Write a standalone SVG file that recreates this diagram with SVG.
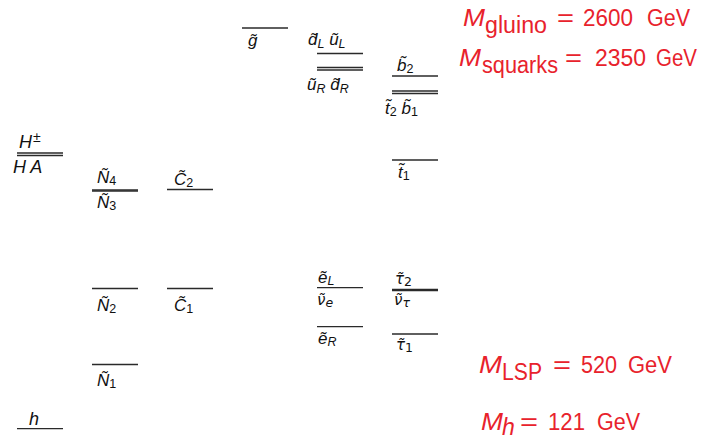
<svg xmlns="http://www.w3.org/2000/svg" width="702" height="448" viewBox="0 0 702 448">
<style>
.lv{stroke:#2a2a2a;stroke-width:1.3;fill:none}
.lb{font-family:"Liberation Sans","DejaVu Sans",sans-serif;font-style:italic;font-size:17px;fill:#111}
.gk{font-family:"DejaVu Sans","Liberation Sans",sans-serif;font-size:15px}
.hg{font-family:"Liberation Sans","DejaVu Sans",sans-serif;font-style:italic;font-size:18px;fill:#111}
.sb{font-size:12.5px;font-style:normal}
.si{font-size:12.5px}
.rd{font-family:"Liberation Sans","DejaVu Sans",sans-serif;font-size:23px;fill:#e8222c}
.rdi{font-style:italic}
</style>
<rect width="702" height="448" fill="#fff"/>
<g id="higgs-HA">
<line class="lv" x1="17" y1="153" x2="63" y2="153"/>
<line class="lv" x1="17" y1="155.5" x2="63" y2="155.5"/>
<text class="hg" x="19" y="148">H<tspan font-style="normal" font-size="14" dx="1" dy="-6">±</tspan></text>
<text class="hg" x="13" y="173">H A</text>
</g>
<g id="h">
<line class="lv" x1="17" y1="428.7" x2="63" y2="428.7"/>
<text class="hg" x="29" y="425" fill="#33339a">h</text>
</g>
<g id="N4N3">
<line class="lv" x1="92" y1="190" x2="138" y2="190"/>
<line class="lv" x1="92" y1="191" x2="138" y2="191"/>
<text class="lb" x="97" y="183">Ñ<tspan class="sb" dy="2">4</tspan></text>
<text class="lb" x="97" y="208">Ñ<tspan class="sb" dy="2">3</tspan></text>
</g>
<g id="C2">
<line class="lv" x1="167" y1="189.5" x2="213" y2="189.5"/>
<text class="lb" x="174" y="185">C̃<tspan class="sb" dy="2">2</tspan></text>
</g>
<g id="N2">
<line class="lv" x1="92" y1="288.5" x2="138" y2="288.5"/>
<text class="lb" x="97" y="311">Ñ<tspan class="sb" dy="2">2</tspan></text>
</g>
<g id="C1">
<line class="lv" x1="167" y1="288.5" x2="213" y2="288.5"/>
<text class="lb" x="174" y="311">C̃<tspan class="sb" dy="2">1</tspan></text>
</g>
<g id="N1">
<line class="lv" x1="92" y1="364.5" x2="138" y2="364.5"/>
<text class="lb" x="97" y="386">Ñ<tspan class="sb" dy="2">1</tspan></text>
</g>
<g id="gluino">
<line class="lv" x1="242" y1="28" x2="288" y2="28"/>
<text class="lb" x="248" y="46">g̃</text>
</g>
<g id="squarksL">
<line class="lv" x1="317" y1="53.5" x2="363" y2="53.5"/>
<text class="lb" x="308" y="45">d̃<tspan class="si" dy="3">L</tspan><tspan dy="-3"> ũ</tspan><tspan class="si" dy="3">L</tspan></text>
</g>
<g id="squarksR">
<line class="lv" x1="317" y1="67.5" x2="363" y2="67.5"/>
<line class="lv" x1="317" y1="70" x2="363" y2="70"/>
<text class="lb" x="307" y="90">ũ<tspan class="si" dy="3">R</tspan><tspan dy="-3"> d̃</tspan><tspan class="si" dy="3">R</tspan></text>
</g>
<g id="b2">
<line class="lv" x1="392" y1="76" x2="438" y2="76"/>
<text class="lb" x="397" y="71">b̃<tspan class="sb" dy="2">2</tspan></text>
</g>
<g id="t2b1">
<line class="lv" x1="392" y1="91" x2="438" y2="91"/>
<line class="lv" x1="392" y1="93.5" x2="438" y2="93.5"/>
<text class="lb" x="385" y="114">t̃<tspan class="sb" dy="2">2</tspan><tspan dy="-2"> b̃</tspan><tspan class="sb" dy="2">1</tspan></text>
</g>
<g id="t1">
<line class="lv" x1="392" y1="160" x2="438" y2="160"/>
<text class="lb" x="398" y="178">t̃<tspan class="sb" dy="2">1</tspan></text>
</g>
<g id="eL-nue">
<line class="lv" x1="317" y1="287.7" x2="363" y2="287.7"/>
<text class="lb" x="318" y="283">ẽ<tspan class="si" dy="2">L</tspan></text>
<text class="lb gk" x="317" y="305">ν̃<tspan class="si" dy="2">e</tspan></text>
</g>
<g id="eR">
<line class="lv" x1="317" y1="326.7" x2="363" y2="326.7"/>
<text class="lb" x="318" y="344">ẽ<tspan class="si" dy="2">R</tspan></text>
</g>
<g id="tau2-nutau">
<line class="lv" x1="392" y1="289.5" x2="438" y2="289.5"/>
<line class="lv" x1="392" y1="290.5" x2="438" y2="290.5"/>
<text class="lb gk" x="395" y="284">τ̃<tspan class="sb" dy="2">2</tspan></text>
<text class="lb gk" x="394" y="305">ν̃<tspan class="si" dy="2">τ</tspan></text>
</g>
<g id="tau1">
<line class="lv" x1="392" y1="334" x2="438" y2="334"/>
<text class="lb gk" x="396" y="350">τ̃<tspan class="sb" dy="2">1</tspan></text>
</g>
<g id="masses">
<text class="rd rdi" x="463" y="26" textLength="22" lengthAdjust="spacingAndGlyphs">M</text>
<text class="rd" x="485" y="33" font-size="20" textLength="62" lengthAdjust="spacingAndGlyphs">gluino</text>
<text class="rd" x="557" y="26" textLength="17" lengthAdjust="spacingAndGlyphs">=</text>
<text class="rd" x="583" y="26" textLength="50" lengthAdjust="spacingAndGlyphs">2600</text>
<text class="rd" x="647" y="26" textLength="43" lengthAdjust="spacingAndGlyphs">GeV</text>
<text class="rd rdi" x="459" y="66" textLength="22" lengthAdjust="spacingAndGlyphs">M</text>
<text class="rd" x="482" y="73" font-size="20" textLength="76" lengthAdjust="spacingAndGlyphs">squarks</text>
<text class="rd" x="565" y="66" textLength="17" lengthAdjust="spacingAndGlyphs">=</text>
<text class="rd" x="595" y="66" textLength="51" lengthAdjust="spacingAndGlyphs">2350</text>
<text class="rd" x="656" y="66" textLength="41" lengthAdjust="spacingAndGlyphs">GeV</text>
<text class="rd rdi" x="479" y="373" textLength="23" lengthAdjust="spacingAndGlyphs">M</text>
<text class="rd" x="502" y="380" font-size="21" textLength="40" lengthAdjust="spacingAndGlyphs">LSP</text>
<text class="rd" x="553" y="373" textLength="18" lengthAdjust="spacingAndGlyphs">=</text>
<text class="rd" x="581" y="373" textLength="36" lengthAdjust="spacingAndGlyphs">520</text>
<text class="rd" x="628" y="373" textLength="44" lengthAdjust="spacingAndGlyphs">GeV</text>
<text class="rd rdi" x="481" y="430" textLength="22" lengthAdjust="spacingAndGlyphs">M</text>
<text class="rd rdi" x="502" y="435" font-size="17">h</text>
<text class="rd" x="520" y="430" textLength="18" lengthAdjust="spacingAndGlyphs">=</text>
<text class="rd" x="548" y="430" textLength="37" lengthAdjust="spacingAndGlyphs">121</text>
<text class="rd" x="597" y="430" textLength="43" lengthAdjust="spacingAndGlyphs">GeV</text>
</g>
</svg>
